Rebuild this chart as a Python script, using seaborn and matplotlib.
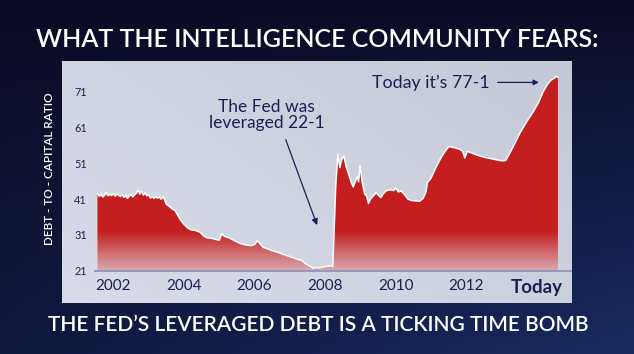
import numpy as np
import seaborn as sns
import matplotlib.pyplot as plt
from matplotlib.patches import Polygon
from matplotlib.colors import to_rgb

# 数据 (年份, 负债/资本比)
years = [2001.55, 2001.60, 2001.65, 2001.70, 2001.75, 2001.80, 2001.85, 2001.90, 2001.95, 2002.00,
         2002.05, 2002.10, 2002.15, 2002.20, 2002.25, 2002.30, 2002.35, 2002.40, 2002.45, 2002.50,
         2002.55, 2002.60, 2002.65, 2002.70, 2002.75, 2002.80, 2002.85, 2002.90, 2002.95, 2003.00,
         2003.05, 2003.10, 2003.15, 2003.20, 2003.25, 2003.30, 2003.35, 2003.42, 2003.50, 2003.58,
         2003.66, 2003.75, 2003.82, 2003.90, 2004.00, 2004.10, 2004.20, 2004.30, 2004.45, 2004.55,
         2004.65, 2004.80, 2004.95, 2005.00, 2005.07, 2005.15, 2005.30, 2005.45, 2005.60, 2005.75,
         2005.90, 2006.00, 2006.08, 2006.15, 2006.25, 2006.35, 2006.50, 2006.65, 2006.80, 2006.95,
         2007.10, 2007.25, 2007.35, 2007.45, 2007.55, 2007.66, 2007.75, 2007.85, 2007.95, 2008.05,
         2008.15, 2008.22, 2008.30, 2008.36, 2008.42, 2008.47, 2008.53, 2008.60, 2008.68, 2008.75,
         2008.80, 2008.86, 2008.92, 2008.95, 2008.99, 2009.05, 2009.12, 2009.18, 2009.23, 2009.30,
         2009.38, 2009.45, 2009.52, 2009.58, 2009.65, 2009.75, 2009.85, 2009.95, 2010.00, 2010.08,
         2010.15, 2010.25, 2010.35, 2010.45, 2010.55, 2010.68, 2010.78, 2010.86, 2010.90, 2011.00,
         2011.15, 2011.30, 2011.45, 2011.52, 2011.65, 2011.80, 2011.90, 2011.96, 2012.03, 2012.10,
         2012.25, 2012.40, 2012.55, 2012.70, 2012.85, 2013.00, 2013.12, 2013.20, 2013.35, 2013.52,
         2013.70, 2013.90, 2014.05, 2014.18, 2014.30, 2014.40, 2014.50, 2014.55, 2014.60]
ratio = [42.6, 41.8, 42.3, 41.6, 42.0, 42.8, 41.9, 42.4, 42.0, 42.5,
         41.8, 42.4, 42.1, 41.7, 42.3, 41.5, 42.0, 41.2, 41.8, 42.3,
         41.6, 42.2, 42.6, 43.5, 42.4, 43.2, 42.1, 42.8, 41.9, 42.3,
         41.3, 41.7, 41.2, 41.6, 41.3, 41.6, 41.0, 41.6, 39.6, 39.0,
         38.3, 37.8, 36.6, 35.2, 34.0, 33.0, 32.4, 32.3, 31.8, 30.8,
         30.2, 30.0, 29.6, 29.5, 31.3, 30.6, 30.1, 29.3, 28.6, 28.2,
         28.0, 28.3, 29.4, 28.6, 27.5, 27.2, 26.6, 26.2, 25.6, 25.1,
         24.6, 24.1, 23.8, 22.9, 22.4, 21.7, 21.9, 21.8, 22.1, 22.2,
         22.4, 22.2, 44.0, 53.5, 49.8, 52.0, 53.1, 50.0, 47.6, 45.5,
         44.4, 46.0, 47.3, 45.8, 50.4, 46.0, 42.5, 41.8, 39.8, 41.2,
         42.0, 42.8, 42.0, 41.4, 42.5, 43.4, 43.6, 43.4, 44.1, 43.0,
         43.3, 42.3, 41.0, 40.6, 40.5, 40.4, 41.2, 43.0, 45.6, 46.8,
         50.0, 52.8, 55.0, 55.7, 55.4, 55.0, 54.4, 52.5, 54.3, 54.1,
         53.5, 53.0, 52.6, 52.3, 52.0, 51.7, 51.8, 53.2, 56.0, 59.4,
         62.4, 65.4, 68.0, 71.0, 73.0, 74.2, 74.8, 75.3, 75.0]

ytick_vals = [21, 31, 41, 51, 61, 71]
xtick_pos = [2002, 2004, 2006, 2008, 2010, 2012, 2014]
xtick_labels = ['2002', '2004', '2006', '2008', '2010', '2012', 'Today']

navy = '#1b1f55'
W, H = 634, 354

sns.set_style('white')
plt.rcParams['font.family'] = ['Lato', 'DejaVu Sans']

fig = plt.figure(figsize=(W / 100, H / 100), dpi=100)

# 深蓝色背景
bg = fig.add_axes([0, 0, 1, 1])
bg.axis('off')
gx, gy = np.meshgrid(np.linspace(0, 1, 200), np.linspace(0, 1, 120))
c_top = np.array(to_rgb('#0c0b26'))
c_blue = np.array(to_rgb('#1d3a7c'))
w = np.clip(0.35 * gy + 0.55 * gx * gy, 0, 1)[..., None] * 0.75
bg.imshow(c_top * (1 - w) + c_blue * w, extent=[0, 1, 0, 1], aspect='auto', origin='upper')

# 浅色面板
panel = fig.add_axes([62 / W, 1 - 303 / H, (572 - 62) / W, (303 - 60.5) / H])
panel.axis('off')
c_l = np.array(to_rgb('#d9dce8'))
c_r = np.array(to_rgb('#c5c9d7'))
pw = (0.6 * gx + 0.4 * (1 - gy))[..., None]
panel.imshow(c_l * (1 - pw) + c_r * pw, extent=[0, 1, 0, 1], aspect='auto', origin='upper')

# 主坐标轴
ax = fig.add_axes([95 / W, 1 - 270.7 / H, (571 - 95) / W, (270.7 - 60.5) / H])
ax.patch.set_alpha(0)
ymax = 21 + (270.7 - 60.5) / 3.58

# 红色渐变填充
verts = list(zip(years, ratio)) + [(years[-1], 21), (years[0], 21)]
poly = Polygon(verts, closed=True, facecolor='none', edgecolor='none')
ax.add_patch(poly)
t = np.clip((np.linspace(21, ymax, 200) - 21) / 11, 0, 1)[:, None]
red = np.array(to_rgb('#c41f1f'))
pink = np.array(to_rgb('#d8aab0'))
grad = pink * (1 - t[..., None]) + red * t[..., None]
grad = np.repeat(grad, 2, axis=1)
im = ax.imshow(grad, extent=[2001.48, 2014.97, 21, ymax], aspect='auto', origin='lower', zorder=2)
im.set_clip_path(poly)
ax.set_xlim(2001.48, 2014.97)
ax.set_ylim(21, ymax)

sns.lineplot(x=years, y=ratio, color='white', lw=1.1, sort=False, estimator=None, ax=ax, zorder=3)

for s in ['top', 'right', 'left']:
    ax.spines[s].set_visible(False)
ax.spines['bottom'].set_color('#8a90b4')
ax.spines['bottom'].set_linewidth(1.2)

ax.set_yticks(ytick_vals)
ax.set_yticklabels([str(v) for v in ytick_vals], fontsize=7.8, color=navy)
ax.set_xticks(xtick_pos)
ax.set_xticklabels(xtick_labels, fontsize=11, color=navy)
ax.tick_params(axis='both', length=0)
ax.tick_params(axis='y', pad=6)
ax.tick_params(axis='x', pad=6)
lab = ax.get_xticklabels()[-1]
lab.set_fontweight('bold')
lab.set_fontsize(13.5)

# 注释
ax.text(2006.35, 64.5, 'The Fed was\nleveraged 22-1', ha='center', va='center',
        fontsize=12.5, color=navy, linespacing=0.95, zorder=4)
ax.annotate('', xy=(2007.80, 33.0), xytext=(2006.86, 58.3),
            arrowprops=dict(arrowstyle='-|>', color=navy, lw=0.9, mutation_scale=9))
ax.text(2012.67, 73.6, 'Today it\u2019s 77-1', ha='right', va='center',
        fontsize=12.8, color=navy, zorder=4)
ax.annotate('', xy=(2014.14, 73.6), xytext=(2012.81, 73.6),
            arrowprops=dict(arrowstyle='-|>', color=navy, lw=0.9, mutation_scale=8))

# 标题和说明文字
fig.text(0.5 * (36.7 + 597) / W, 1 - 39.5 / H, 'WHAT THE INTELLIGENCE COMMUNITY FEARS:',
         ha='center', va='center', color='white', fontsize=18, fontweight='semibold')
fig.text(0.5 * (48 + 588) / W, 1 - 325 / H, 'THE FED\u2019S LEVERAGED DEBT IS A TICKING TIME BOMB',
         ha='center', va='center', color='white', fontsize=15, fontweight='semibold')
fig.text(50 / W, 1 - 169 / H, 'DEBT - TO - CAPITAL RATIO', rotation=90, ha='center', va='center',
         color='white', fontsize=8.5, fontweight='semibold')

fig.savefig('out.png', dpi=100)
